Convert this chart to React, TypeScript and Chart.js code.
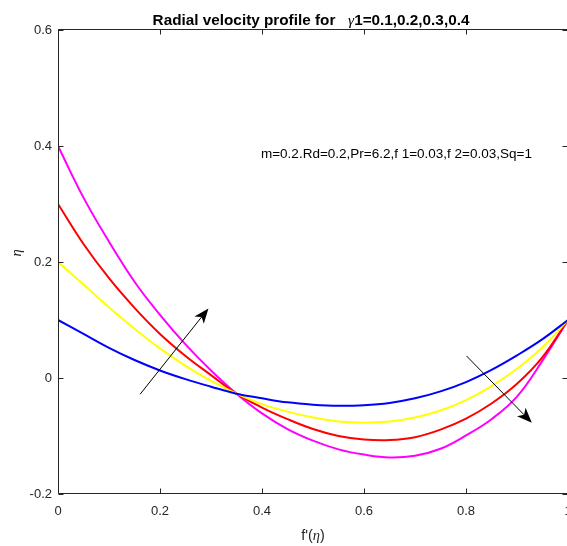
import { useEffect, useRef } from 'react';
import { Chart, registerables } from 'chart.js';

Chart.register(...registerables);

const xValues = [0, 0.05, 0.1, 0.15, 0.2, 0.25, 0.3, 0.35, 0.4, 0.45, 0.5, 0.55, 0.6, 0.65, 0.7, 0.75, 0.8, 0.85, 0.9, 0.95, 1];
const blueValues = [0.1, 0.076, 0.052, 0.031, 0.013, -0.002, -0.015, -0.027, -0.035, -0.042, -0.046, -0.048, -0.047, -0.043, -0.035, -0.023, -0.007, 0.014, 0.039, 0.067, 0.1];
const yellowValues = [0.2, 0.161, 0.122, 0.085, 0.051, 0.021, -0.005, -0.027, -0.045, -0.058, -0.068, -0.075, -0.077, -0.075, -0.068, -0.056, -0.038, -0.014, 0.016, 0.053, 0.1];
const redValues = [0.3, 0.231, 0.172, 0.121, 0.076, 0.038, 0.005, -0.027, -0.051, -0.071, -0.088, -0.1, -0.106, -0.107, -0.102, -0.089, -0.07, -0.044, -0.01, 0.036, 0.1];
const magentaValues = [0.4, 0.311, 0.235, 0.166, 0.109, 0.058, 0.013, -0.027, -0.061, -0.088, -0.108, -0.123, -0.132, -0.137, -0.134, -0.122, -0.099, -0.071, -0.032, 0.03, 0.1];

const xTicks = [0, 0.2, 0.4, 0.6, 0.8, 1];
const xTickLabels = ['0', '0.2', '0.4', '0.6', '0.8', '1'];
const yTicks = [-0.2, 0, 0.2, 0.4, 0.6];
const yTickLabels = ['-0.2', '0', '0.2', '0.4', '0.6'];

const arrowUp = [[0.161, -0.028], [0.295, 0.12]];
const arrowDown = [[0.801, 0.038], [0.929, -0.077]];

const titleLeft = 'Radial velocity profile for   ';
const titleGreek = 'γ';
const titleRight = '1=0.1,0.2,0.3,0.4';
const annotation = 'm=0.2.Rd=0.2,Pr=6.2,f 1=0.03,f 2=0.03,Sq=1';
const annotationPos = [0.398, 0.38];

const SANS = '"Liberation Sans", Arial, Helvetica, sans-serif';
const SERIF = '"Liberation Serif", "DejaVu Serif", serif';
const AXIS = '#262626';

function drawArrow(ctx: CanvasRenderingContext2D, x1: number, y1: number, x2: number, y2: number) {
  const ang = Math.atan2(y2 - y1, x2 - x1);
  const len = 15;
  const half = 6;
  const notch = 4;
  const bx = x2 - len * Math.cos(ang);
  const by = y2 - len * Math.sin(ang);
  ctx.strokeStyle = '#000';
  ctx.lineWidth = 1;
  ctx.beginPath();
  ctx.moveTo(x1, y1);
  ctx.lineTo(bx + notch * Math.cos(ang), by + notch * Math.sin(ang));
  ctx.stroke();
  const px = -Math.sin(ang);
  const py = Math.cos(ang);
  ctx.fillStyle = '#000';
  ctx.beginPath();
  ctx.moveTo(x2, y2);
  ctx.lineTo(bx + half * px, by + half * py);
  ctx.lineTo(bx + notch * Math.cos(ang), by + notch * Math.sin(ang));
  ctx.lineTo(bx - half * px, by - half * py);
  ctx.closePath();
  ctx.fill();
}

const decorPlugin = {
  id: 'decor',
  afterDatasetsDraw(chart: any) {
    const { ctx, chartArea: a, scales } = chart;
    const xs = scales.x;
    const ys = scales.y;
    ctx.save();

    [arrowUp, arrowDown].forEach((arr) => {
      drawArrow(
        ctx,
        xs.getPixelForValue(arr[0][0]), ys.getPixelForValue(arr[0][1]),
        xs.getPixelForValue(arr[1][0]), ys.getPixelForValue(arr[1][1])
      );
    });

    const L = Math.round(a.left) + 0.5;
    const R = Math.round(a.right) - 0.5;
    const T = Math.round(a.top) - 0.5;
    const B = Math.round(a.bottom) - 0.5;
    ctx.strokeStyle = AXIS;
    ctx.lineWidth = 1;
    ctx.beginPath();
    ctx.moveTo(L, T); ctx.lineTo(R, T); ctx.lineTo(R, B); ctx.lineTo(L, B); ctx.closePath();
    ctx.stroke();

    ctx.beginPath();
    xTicks.forEach((v) => {
      const p = Math.round(xs.getPixelForValue(v)) + 0.5;
      ctx.moveTo(p, B); ctx.lineTo(p, B - 5);
      ctx.moveTo(p, T); ctx.lineTo(p, T + 5);
    });
    yTicks.forEach((v) => {
      const p = Math.round(ys.getPixelForValue(v)) + 0.5;
      ctx.moveTo(L, p); ctx.lineTo(L + 5, p);
      ctx.moveTo(R, p); ctx.lineTo(R - 5, p);
    });
    ctx.stroke();

    ctx.fillStyle = '#000';
    ctx.textBaseline = 'alphabetic';
    ctx.textAlign = 'left';
    const boldFont = `bold 15.3px ${SANS}`;
    const greekFont = `italic 15.3px ${SERIF}`;
    ctx.font = boldFont;
    const w1 = ctx.measureText(titleLeft).width;
    const w3 = ctx.measureText(titleRight).width;
    ctx.font = greekFont;
    const w2 = ctx.measureText(titleGreek).width;
    const total = w1 + w2 + w3;
    let tx = (a.left + a.right) / 2 - total / 2 - 2;
    const ty = 25;
    ctx.font = boldFont;
    ctx.fillText(titleLeft, tx, ty);
    tx += w1;
    ctx.font = greekFont;
    ctx.fillText(titleGreek, tx, ty);
    tx += w2;
    ctx.font = boldFont;
    ctx.fillText(titleRight, tx, ty);

    ctx.font = `13.5px ${SANS}`;
    ctx.fillText(annotation, xs.getPixelForValue(annotationPos[0]), ys.getPixelForValue(annotationPos[1]));

    ctx.fillStyle = AXIS;
    const lf = `14.5px ${SANS}`;
    const lg = `italic 14.5px ${SERIF}`;
    const parts: [string, string][] = [["f'(", lf], ['η', lg], [')', lf]];
    let lw = 0;
    parts.forEach(([s, f]) => { ctx.font = f; lw += ctx.measureText(s).width; });
    let lx = (a.left + a.right) / 2 - lw / 2;
    parts.forEach(([s, f]) => { ctx.font = f; ctx.fillText(s, lx, 540); lx += ctx.measureText(s).width; });

    ctx.save();
    ctx.translate(21, 253);
    ctx.rotate(-Math.PI / 2);
    ctx.font = lg;
    ctx.textAlign = 'center';
    ctx.fillText('η', 0, 0);
    ctx.restore();

    ctx.restore();
  },
};

export default function App() {
  const ref = useRef<HTMLCanvasElement | null>(null);
  useEffect(() => {
    if (!ref.current) return;
    const mk = (label: string, vals: number[], color: string) => ({
      label,
      data: xValues.map((x, i) => ({ x, y: vals[i] })),
      borderColor: color,
      backgroundColor: color,
      borderWidth: 2,
      pointRadius: 0,
      fill: false,
      tension: 0.4,
    });
    const chart = new Chart(ref.current, {
      type: 'line',
      data: {
        datasets: [
          mk('γ1=0.1', blueValues, '#0000ff'),
          mk('γ1=0.2', yellowValues, '#ffff00'),
          mk('γ1=0.3', redValues, '#ff0000'),
          mk('γ1=0.4', magentaValues, '#ff00ff'),
        ],
      },
      options: {
        responsive: false,
        animation: false,
        devicePixelRatio: 1,
        layout: { padding: { top: 30, right: 32, left: 0, bottom: 0 } },
        plugins: { legend: { display: false }, tooltip: { enabled: false }, title: { display: false } },
        scales: {
          x: {
            type: 'linear',
            min: 0,
            max: 1,
            afterBuildTicks: (s: any) => { s.ticks = xTicks.map((v) => ({ value: v })); },
            afterFit: (s: any) => { s.height = 52; },
            grid: { display: false, drawTicks: false },
            border: { display: false },
            ticks: {
              autoSkip: false,
              maxRotation: 0,
              padding: 10,
              color: AXIS,
              font: { family: SANS, size: 13 },
              callback: (v: any) => xTickLabels[xTicks.indexOf(v)] ?? '',
            },
          },
          y: {
            type: 'linear',
            min: -0.2,
            max: 0.6,
            afterBuildTicks: (s: any) => { s.ticks = yTicks.map((v) => ({ value: v })); },
            afterFit: (s: any) => { s.width = 58; },
            grid: { display: false, drawTicks: false },
            border: { display: false },
            ticks: {
              autoSkip: false,
              padding: 6,
              color: AXIS,
              font: { family: SANS, size: 13 },
              callback: (v: any) => yTickLabels[yTicks.indexOf(v)] ?? '',
            },
          },
        },
      },
      plugins: [decorPlugin],
    });
    return () => chart.destroy();
  }, []);
  return (
    <div style={{ position: 'fixed', left: 0, top: 0, width: 567, height: 546, overflow: 'hidden', background: '#fff' }}>
      <canvas ref={ref} width={600} height={546} style={{ display: 'block', width: 600, height: 546 }} />
    </div>
  );
}
